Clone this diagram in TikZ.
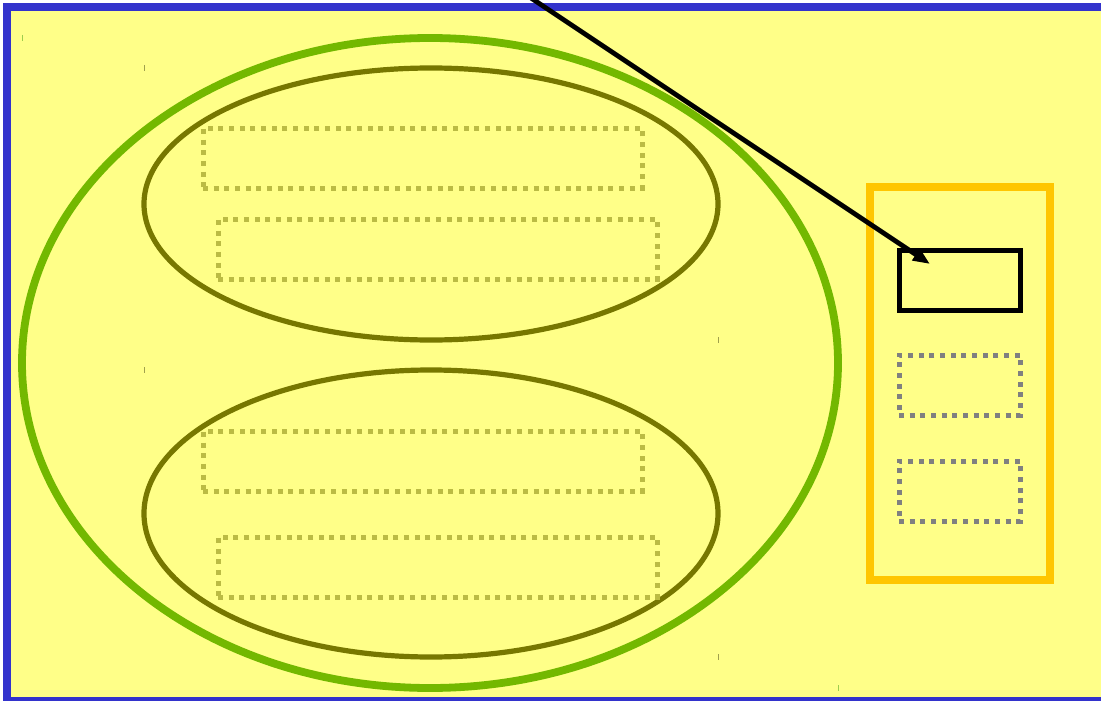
\documentclass[tikz,border=0pt]{standalone}
\usetikzlibrary{shapes.geometric,arrows.meta}
\definecolor{bgyellow}{RGB}{255,255,136}
\definecolor{frameblue}{RGB}{51,51,204}
\definecolor{outergreen}{RGB}{115,184,0}
\definecolor{innerolive}{RGB}{119,119,0}
\definecolor{dotolive}{RGB}{187,187,68}
\definecolor{dotgray}{RGB}{128,128,128}
\definecolor{boxorange}{RGB}{255,198,0}
\tikzset{
  outerell/.style={ellipse, draw=outergreen, line width=7.8pt, inner sep=0pt},
  innerell/.style={ellipse, draw=innerolive, line width=5.2pt, inner sep=0pt},
  dotbox/.style={rectangle, draw=dotolive, line width=5pt, dash pattern=on 5pt off 5.67pt, inner sep=0pt, minimum width=439pt, minimum height=60pt},
  graybox/.style={rectangle, draw=dotgray, line width=5pt, dash pattern=on 5pt off 5.67pt, inner sep=0pt, minimum width=121pt, minimum height=60pt},
  tick/.style={line width=1pt},
}
\begin{document}
\begin{tikzpicture}[x=1pt,y=-1pt]
\useasboundingbox (0,0) rectangle (1101,701);
\clip (0,0) rectangle (1101,701);
\fill[white] (0,0) rectangle (1101,701);
\draw[frameblue, fill=bgyellow, line width=7.7pt] (7,7) rectangle (1130,701);
% ellipses
\node[outerell, minimum width=816pt, minimum height=650pt] (outer) at (430,363) {};
\node[innerell, minimum width=574pt, minimum height=272pt] (top) at (431,204) {};
\node[innerell, minimum width=574pt, minimum height=287pt] (bottom) at (431,513.5) {};
% dotted boxes
\node[dotbox] (d1) at (422.5,158) {};
\node[dotbox] (d2) at (437.5,249) {};
\node[dotbox] (d3) at (422.5,461) {};
\node[dotbox] (d4) at (437.5,567) {};
% right panel
\node[rectangle, draw=boxorange, line width=7.8pt, inner sep=0pt, minimum width=180pt, minimum height=393pt] (panel) at (960,383.5) {};
\node[rectangle, draw=black, line width=5pt, inner sep=0pt, minimum width=121pt, minimum height=60pt] (target) at (959.5,280) {};
\node[graybox] (g1) at (959.5,385) {};
\node[graybox] (g2) at (959.5,491) {};
% arrow
\coordinate (src) at (519,-10);
\coordinate (tip) at (930,264);
\draw[line width=4.8pt, -{Triangle[length=17pt,width=13pt]}] (src) -- (tip);
% tiny corner marks
\draw[tick, outergreen!70] (22,35) -- (22,41);
\draw[tick, outergreen!70] (838,685) -- (838,691);
\draw[tick, innerolive!70] (144,65) -- (144,71);
\draw[tick, innerolive!70] (718,337) -- (718,343);
\draw[tick, innerolive!70] (144,367) -- (144,373);
\draw[tick, innerolive!70] (718,654) -- (718,660);
\end{tikzpicture}
\end{document}
